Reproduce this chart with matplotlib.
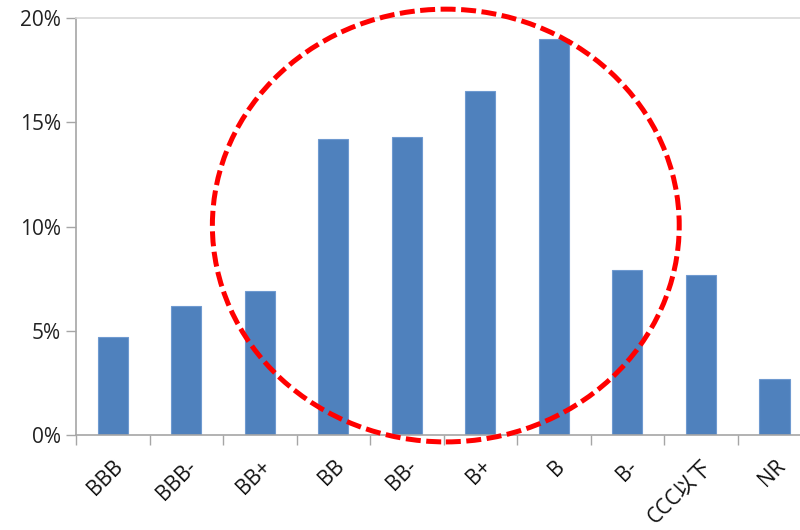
import matplotlib.pyplot as plt
from matplotlib.patches import Ellipse
from matplotlib.ticker import FixedLocator, PercentFormatter
import numpy as np

plt.rcParams['font.family'] = ['Open Sans', 'Noto Sans CJK JP', 'DejaVu Sans']

ratings = ["BBB", "BBB-", "BB+", "BB", "BB-", "B+", "B", "B-", "CCC以下", "NR"]
shares = [4.7, 6.2, 6.9, 14.2, 14.3, 16.5, 19.0, 7.9, 7.7, 2.7]

fig = plt.figure(figsize=(8, 5.3), dpi=100)
ax = fig.add_axes([0.095, 0.179, 0.919, 0.787])

x = np.arange(len(ratings))
ax.bar(x, shares, width=0.41, color="#4F81BD", edgecolor="#6F9AD0", linewidth=0.8, zorder=2)

ax.set_xlim(-0.5, len(ratings) - 0.5)
ax.set_ylim(0, 20)
ax.set_yticks([0, 5, 10, 15, 20])
ax.yaxis.set_major_formatter(PercentFormatter(decimals=0))

ax.set_xticks(x)
ax.set_xticklabels(ratings, rotation=45, ha="right", rotation_mode="anchor")
ax.xaxis.set_minor_locator(FixedLocator(np.arange(-0.5, len(ratings), 1.0)))
ax.tick_params(axis="x", which="major", length=0, pad=15, labelsize=15, labelcolor="#111111")
ax.tick_params(axis="x", which="minor", length=7, color="#A6A6A6", width=1)
ax.tick_params(axis="y", length=7, color="#A6A6A6", width=1, labelsize=15, labelcolor="#222222", pad=4)

for side in ["left", "bottom"]:
    ax.spines[side].set_color("#A6A6A6")
    ax.spines[side].set_linewidth(1.2)
ax.spines["top"].set_color("#D9D9D9")
ax.spines["top"].set_linewidth(1.2)
ax.spines["right"].set_visible(False)

# dashed ring around the BB..B- group
ring = Ellipse((4.53, 10.05), width=6.35, height=20.75, fill=False,
               edgecolor="#FF0000", linewidth=3.6, linestyle=(0, (3, 1.1)),
               clip_on=False, zorder=3)
ax.add_patch(ring)

fig.savefig("out.png", dpi=100)
